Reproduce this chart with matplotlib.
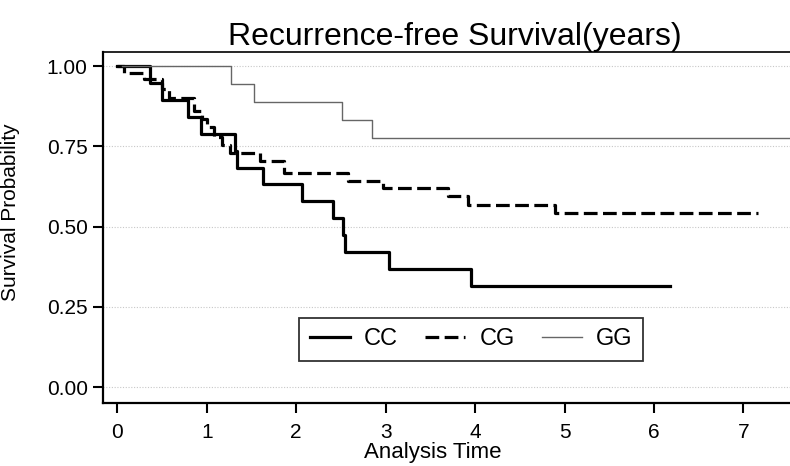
import matplotlib.pyplot as plt

plt.rcParams["font.family"] = ["Liberation Sans", "DejaVu Sans"]

# DATA (Kaplan-Meier steps)

cc_times = [0.0, 0.36, 0.50, 0.79, 0.93, 1.31, 1.34, 1.63, 2.07, 2.41, 2.52, 2.55, 3.04, 3.95, 6.18]
cc_surv = [1.0, 0.947, 0.895, 0.842, 0.789, 0.737, 0.684, 0.632, 0.579, 0.526, 0.474, 0.421, 0.368, 0.316, 0.316]

cg_times = [0.0, 0.08, 0.30, 0.50, 0.58, 0.86, 0.95, 1.00, 1.08, 1.17, 1.26, 1.60, 1.86,
            2.58, 2.97, 3.70, 3.92, 4.89, 7.16]
cg_surv = [1.0, 0.978, 0.96, 0.93, 0.90, 0.86, 0.835, 0.81, 0.78, 0.755, 0.73, 0.705, 0.667,
           0.642, 0.62, 0.595, 0.567, 0.542, 0.542]

gg_times = [0.05, 1.27, 1.53, 2.51, 2.85, 7.6]
gg_surv = [1.0, 0.944, 0.889, 0.833, 0.778, 0.778]

x_ticks = [0, 1, 2, 3, 4, 5, 6, 7]
y_ticks = [0.0, 0.25, 0.5, 0.75, 1.0]
y_labels = ["0.00", "0.25", "0.50", "0.75", "1.00"]

# FIGURE

fig = plt.figure(figsize=(7.9, 4.66), dpi=100)
ax = fig.add_axes([0.1304, 0.135, 0.8696, 0.753])

for y in y_ticks:
    ax.axhline(y, color="#c8c8c8", linewidth=0.8, linestyle=(0, (1, 1.5)), zorder=0)

ax.step(cc_times, cc_surv, where="post", color="black", linewidth=2.3, label="CC")
ax.step(cg_times, cg_surv, where="post", color="black", linewidth=2.3,
        linestyle=(0, (4.3, 1.7)), label="CG")
ax.step(gg_times, gg_surv, where="post", color="#666666", linewidth=1.0, label="GG")

ax.set_xlim(-0.16, 7.52)
ax.set_ylim(-0.05, 1.044)
ax.set_xticks(x_ticks)
ax.set_yticks(y_ticks)
ax.set_yticklabels(y_labels)

ax.spines["right"].set_visible(False)
for side in ["left", "bottom"]:
    ax.spines[side].set_linewidth(1.6)
ax.spines["top"].set_linewidth(1.2)

ax.tick_params(axis="both", direction="out", length=7, width=1.5, labelsize=15, pad=4)
ax.tick_params(axis="x", pad=7)

ax.set_title("Recurrence-free Survival(years)", fontsize=23, pad=5, x=0.512)
ax.set_xlabel("Analysis Time", fontsize=16)
ax.xaxis.set_label_coords(0.48, -0.11)
ax.set_ylabel("Survival Probability", fontsize=15)
ax.yaxis.set_label_coords(-0.121, 0.544)

leg = ax.legend(ncol=3, loc="center", bbox_to_anchor=(0.536, 0.182), fontsize=17,
                frameon=True, fancybox=False, edgecolor="black", handlelength=1.7,
                columnspacing=1.15, handletextpad=0.6, borderpad=0.45, borderaxespad=0)
leg.get_frame().set_linewidth(1.3)

fig.savefig("out.png", dpi=100)
